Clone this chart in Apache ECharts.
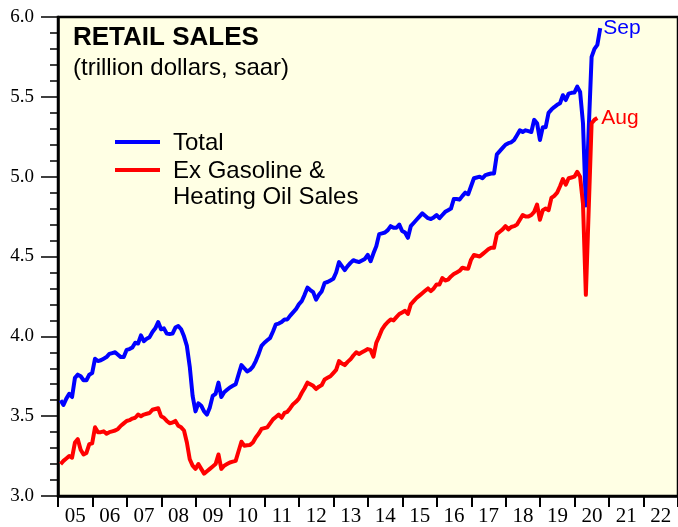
<!DOCTYPE html>
<html>
<head>
<meta charset="utf-8">
<script src="https://cdn.jsdelivr.net/npm/echarts@6/dist/echarts.min.js"></script>
<style>
  html, body { margin: 0; padding: 0; background: #fff; }
  #chart { width: 678px; height: 527px; }
</style>
</head>
<body>
<div id="chart"></div>
<script>
// monthly, Jan 2005 onwards (trillion dollars, saar)
const startYear = 2005
const yearLabels = ['05', '06', '07', '08', '09', '10', '11', '12', '13', '14', '15', '16', '17', '18', '19', '20', '21', '22']
const yTicks = [3.0, 3.5, 4.0, 4.5, 5.0, 5.5, 6.0]

const total = [
  3.60, 3.57, 3.61, 3.64, 3.62, 3.74, 3.76, 3.75, 3.725, 3.725, 3.76, 3.77,
  3.86, 3.845, 3.85, 3.86, 3.87, 3.89, 3.895, 3.90, 3.885, 3.87, 3.87, 3.915,
  3.92, 3.93, 3.96, 3.955, 4.006, 3.97, 3.985, 3.995, 4.027, 4.05, 4.09, 4.044,
  4.05, 4.017, 4.015, 4.017, 4.055, 4.065, 4.044, 4.00, 3.94, 3.81, 3.627, 3.53,
  3.58, 3.565, 3.53, 3.51, 3.555, 3.627, 3.64, 3.71, 3.62, 3.65, 3.665, 3.68,
  3.69, 3.70, 3.76, 3.82, 3.80, 3.78, 3.79, 3.81, 3.845, 3.89, 3.94, 3.96,
  3.975, 3.99, 4.03, 4.075, 4.08, 4.09, 4.106, 4.106, 4.13, 4.15, 4.17, 4.20,
  4.22, 4.26, 4.305, 4.29, 4.277, 4.23, 4.26, 4.283, 4.335, 4.34, 4.35, 4.36,
  4.40, 4.465, 4.44, 4.415, 4.44, 4.46, 4.477, 4.47, 4.465, 4.475, 4.485, 4.51,
  4.47, 4.52, 4.565, 4.64, 4.645, 4.65, 4.665, 4.69, 4.68, 4.68, 4.70, 4.66,
  4.65, 4.617, 4.69, 4.71, 4.73, 4.75, 4.77, 4.755, 4.74, 4.735, 4.745, 4.76,
  4.74, 4.76, 4.78, 4.79, 4.80, 4.86, 4.86, 4.856, 4.88, 4.90, 4.89, 4.94,
  4.99, 4.995, 5.00, 4.99, 5.01, 5.015, 5.02, 5.02, 5.14, 5.16, 5.18, 5.20,
  5.21, 5.215, 5.23, 5.26, 5.29, 5.28, 5.29, 5.285, 5.28, 5.356, 5.335, 5.23,
  5.31, 5.31, 5.40, 5.42, 5.436, 5.45, 5.46, 5.51, 5.48, 5.52, 5.525, 5.527,
  5.564, 5.53, 5.335, 4.82, 5.30, 5.75, 5.80, 5.825, 5.93
]

const exGas = [
  3.20, 3.22, 3.235, 3.25, 3.24, 3.335, 3.356, 3.29, 3.26, 3.27, 3.325, 3.33,
  3.43, 3.40, 3.40, 3.405, 3.39, 3.40, 3.405, 3.41, 3.42, 3.44, 3.455, 3.47,
  3.475, 3.485, 3.49, 3.51, 3.50, 3.51, 3.515, 3.52, 3.54, 3.545, 3.55, 3.50,
  3.49, 3.47, 3.456, 3.46, 3.47, 3.44, 3.43, 3.41, 3.335, 3.23, 3.19, 3.17,
  3.20, 3.17, 3.14, 3.155, 3.17, 3.185, 3.20, 3.26, 3.17, 3.19, 3.20, 3.21,
  3.215, 3.22, 3.28, 3.34, 3.315, 3.318, 3.32, 3.335, 3.367, 3.39, 3.42, 3.425,
  3.43, 3.455, 3.48, 3.495, 3.51, 3.49, 3.52, 3.527, 3.55, 3.575, 3.59, 3.61,
  3.645, 3.675, 3.71, 3.70, 3.69, 3.67, 3.685, 3.695, 3.73, 3.74, 3.75, 3.77,
  3.79, 3.845, 3.83, 3.82, 3.84, 3.856, 3.88, 3.90, 3.89, 3.90, 3.91, 3.92,
  3.915, 3.873, 3.96, 4.00, 4.044, 4.07, 4.09, 4.106, 4.10, 4.12, 4.14, 4.15,
  4.16, 4.14, 4.20, 4.22, 4.24, 4.255, 4.27, 4.285, 4.30, 4.283, 4.30, 4.325,
  4.325, 4.365, 4.35, 4.355, 4.375, 4.39, 4.40, 4.41, 4.43, 4.425, 4.424, 4.48,
  4.51, 4.505, 4.50, 4.515, 4.53, 4.545, 4.555, 4.555, 4.64, 4.655, 4.67, 4.69,
  4.67, 4.685, 4.69, 4.70, 4.73, 4.76, 4.75, 4.75, 4.76, 4.78, 4.825, 4.73,
  4.79, 4.80, 4.79, 4.867, 4.88, 4.90, 4.94, 4.985, 4.95, 4.99, 4.995, 5.00,
  5.03, 5.00, 4.83, 4.26, 4.80, 5.335, 5.356, 5.367
]

const SANS = 'Liberation Sans'
const SERIF = 'Liberation Serif'

const toPoints = (values) => values.map((v, i) => [startYear + (i + 0.9) / 12, v])

const chart = echarts.init(document.getElementById('chart'), null, { renderer: 'canvas' })

chart.setOption({
  animation: false,
  backgroundColor: '#ffffff',
  grid: {
    left: 58, top: 17, width: 624, height: 480,
    show: true,
    backgroundColor: '#FFFFE4',
    borderColor: '#000',
    borderWidth: 2.5
  },
  xAxis: [
    {
      type: 'value',
      min: startYear,
      max: startYear + yearLabels.length,
      interval: 1,
      axisLine: { show: true, lineStyle: { color: '#000', width: 2.5 } },
      axisTick: { show: true, inside: false, length: 11, lineStyle: { color: '#000', width: 2 } },
      axisLabel: { show: false },
      splitLine: { show: false }
    },
    {
      type: 'category',
      position: 'bottom',
      data: yearLabels,
      boundaryGap: true,
      axisLine: { show: false },
      axisTick: { show: false },
      axisLabel: { color: '#000', fontFamily: SERIF, fontSize: 21, margin: 10, interval: 0 },
      splitLine: { show: false }
    }
  ],
  yAxis: {
    type: 'value',
    min: yTicks[0],
    max: yTicks[yTicks.length - 1],
    interval: yTicks[1] - yTicks[0],
    axisLine: { show: true, lineStyle: { color: '#000', width: 2.5 } },
    axisTick: { show: true, inside: false, length: 17, lineStyle: { color: '#000', width: 1.5 } },
    minorTick: { show: true, splitNumber: 5, length: 8, lineStyle: { color: '#000', width: 1.5 } },
    axisLabel: {
      color: '#000', fontFamily: SERIF, fontSize: 19, margin: 24,
      padding: [2, 0, 0, 0],
      formatter: (v) => v.toFixed(1)
    },
    splitLine: { show: false }
  },
  series: [
    {
      name: 'Total',
      type: 'line',
      xAxisIndex: 0,
      showSymbol: false,
      data: toPoints(total),
      lineStyle: { color: '#0000FF', width: 4, join: 'round' },
      itemStyle: { color: '#0000FF' },
      endLabel: { show: true, formatter: 'Sep', color: '#0000FF', fontFamily: SANS, fontSize: 21, distance: 3, padding: [6, 0, 0, 0] }
    },
    {
      name: 'Ex Gasoline & Heating Oil Sales',
      type: 'line',
      xAxisIndex: 0,
      showSymbol: false,
      data: toPoints(exGas),
      lineStyle: { color: '#FF0000', width: 4, join: 'round' },
      itemStyle: { color: '#FF0000' },
      endLabel: { show: true, formatter: 'Aug', color: '#FF0000', fontFamily: SANS, fontSize: 21, distance: 4, padding: [4, 0, 0, 0] }
    }
  ],
  graphic: [
    { type: 'text', left: 73, top: 25, style: { text: 'RETAIL SALES', fill: '#000', font: 'bold 26px "Liberation Sans"' } },
    { type: 'text', left: 73, top: 56, style: { text: '(trillion dollars, saar)', fill: '#000', font: '24px "Liberation Sans"' } },
    { type: 'line', shape: { x1: 115, y1: 142, x2: 160, y2: 142 }, style: { stroke: '#0000FF', lineWidth: 4 } },
    { type: 'line', shape: { x1: 115, y1: 170, x2: 160, y2: 170 }, style: { stroke: '#FF0000', lineWidth: 4 } },
    { type: 'text', left: 173, top: 131, style: { text: 'Total', fill: '#000', font: '24px "Liberation Sans"' } },
    { type: 'text', left: 173, top: 158, style: { text: 'Ex Gasoline &\nHeating Oil Sales', fill: '#000', font: '24px "Liberation Sans"', lineHeight: 26 } }
  ]
})

window.addEventListener('resize', () => chart.resize())
</script>
</body>
</html>
